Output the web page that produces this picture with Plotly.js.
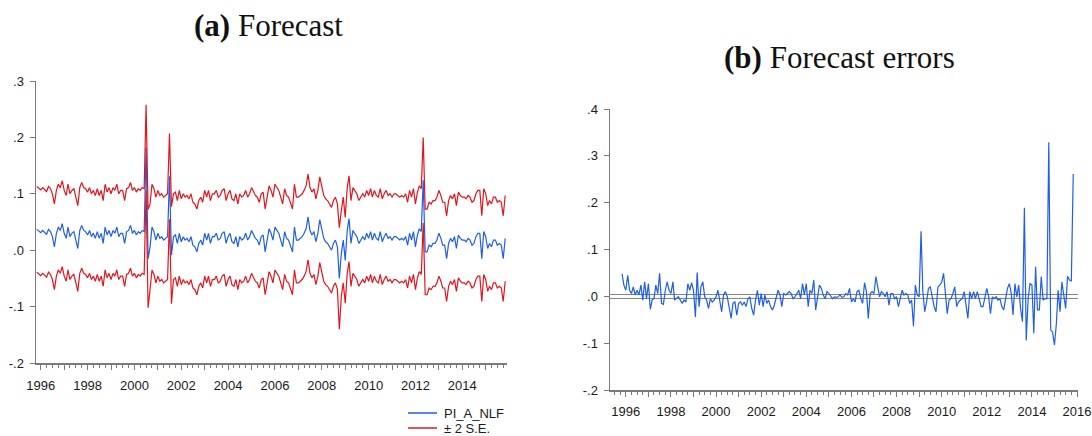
<!DOCTYPE html>
<html>
<head>
<meta charset="utf-8">
<script src="https://cdn.plot.ly/plotly-3.0.1.min.js"></script>
<style>
  html, body { margin: 0; padding: 0; background: #ffffff; }
  #chart { width: 1092px; height: 436px; }
</style>
</head>
<body>
<div id="chart"></div>
<script>
// Monthly sample: first observation is November 1995.
const firstYear = 1995;
const firstMonth = 11;

// Forecast of PI_A_NLF, one row per calendar year (1995 row holds Nov-Dec).
const forecast = [
  0.037, 0.034,
  0.031, 0.035, 0.031, 0.028, 0.037, 0.033, 0.024, 0.006, 0.030, 0.041, 0.035, 0.047,
  0.030, 0.021, 0.041, 0.024, 0.030, 0.033, 0.018, 0.003, 0.035, 0.044, 0.035, 0.033,
  0.027, 0.035, 0.024, 0.030, 0.021, 0.033, 0.021, 0.030, 0.012, 0.041, 0.027, 0.035,
  0.024, 0.035, 0.030, 0.041, 0.024, 0.030, 0.030, 0.012, 0.033, 0.035, 0.044, 0.030,
  0.035, 0.027, 0.033, 0.030, 0.035, 0.033, 0.182, -0.015, 0.006, 0.041, 0.033, 0.018,
  0.030, 0.021, 0.024, 0.018, 0.021, 0.024, 0.131, -0.009, 0.024, 0.027, 0.012, 0.030,
  0.015, 0.024, 0.018, 0.021, 0.015, 0.024, 0.009, 0.006, -0.003, 0.012, 0.018, 0.009,
  0.030, 0.018, 0.030, 0.012, 0.024, 0.024, 0.030, 0.018, 0.021, 0.030, 0.033, 0.012,
  0.024, 0.030, 0.015, 0.012, 0.024, 0.006, 0.024, 0.018, 0.021, 0.030, 0.018, 0.024,
  0.035, 0.027, 0.021, 0.018, 0.009, 0.024, 0.027, -0.003, 0.021, 0.038, 0.030, 0.018,
  0.041, 0.035, 0.030, 0.018, 0.006, 0.033, 0.021, 0.018, 0.006, -0.003, 0.041, 0.018,
  0.018, 0.021, 0.024, 0.030, 0.038, 0.059, 0.035, 0.027, 0.033, 0.015, 0.030, 0.054,
  0.035, 0.021, 0.015, 0.012, 0.006, 0.000, 0.012, 0.018, 0.006, -0.050, -0.006, 0.018,
  -0.018, 0.035, 0.056, 0.012, 0.035, 0.030, 0.024, 0.012, 0.018, 0.024, 0.018, 0.030,
  0.021, 0.033, 0.018, 0.030, 0.021, 0.018, 0.033, 0.015, 0.024, 0.030, 0.021, 0.024,
  0.018, 0.024, 0.024, 0.021, 0.018, 0.021, 0.018, 0.024, 0.009, 0.030, 0.018, 0.033,
  0.006, 0.027, 0.038, 0.033, 0.124, -0.003, -0.003, 0.009, 0.006, 0.012, 0.012, 0.018,
  0.030, 0.021, 0.009, 0.009, -0.015, 0.012, 0.021, 0.015, 0.024, 0.003, 0.027, 0.021,
  0.018, 0.018, 0.015, 0.021, 0.018, 0.009, 0.012, 0.024, 0.030, 0.030, -0.015, 0.033,
  0.024, 0.003, 0.012, 0.006, 0.018, 0.018, 0.009, 0.012, 0.009, -0.015, 0.021
];

// Two forecast standard errors, same layout as the forecast rows.
const twoSE = [
  0.076, 0.076,
  0.076, 0.076, 0.076, 0.076, 0.076, 0.076, 0.076, 0.076, 0.076, 0.076, 0.076, 0.076,
  0.076, 0.076, 0.076, 0.076, 0.076, 0.076, 0.076, 0.076, 0.076, 0.076, 0.076, 0.076,
  0.076, 0.076, 0.076, 0.076, 0.076, 0.076, 0.076, 0.076, 0.076, 0.076, 0.076, 0.076,
  0.076, 0.076, 0.076, 0.076, 0.076, 0.076, 0.076, 0.076, 0.076, 0.076, 0.076, 0.076,
  0.076, 0.076, 0.076, 0.076, 0.076, 0.076, 0.076, 0.087, 0.076, 0.076, 0.076, 0.076,
  0.076, 0.076, 0.076, 0.076, 0.076, 0.076, 0.076, 0.086, 0.076, 0.076, 0.076, 0.076,
  0.076, 0.076, 0.076, 0.076, 0.076, 0.076, 0.076, 0.076, 0.076, 0.076, 0.076, 0.076,
  0.076, 0.076, 0.076, 0.076, 0.076, 0.076, 0.076, 0.076, 0.076, 0.076, 0.076, 0.076,
  0.076, 0.076, 0.076, 0.076, 0.076, 0.076, 0.076, 0.076, 0.076, 0.076, 0.076, 0.076,
  0.076, 0.076, 0.076, 0.076, 0.076, 0.076, 0.076, 0.076, 0.076, 0.076, 0.076, 0.076,
  0.076, 0.076, 0.076, 0.076, 0.076, 0.076, 0.076, 0.076, 0.076, 0.076, 0.076, 0.076,
  0.076, 0.076, 0.076, 0.076, 0.076, 0.076, 0.076, 0.076, 0.076, 0.076, 0.076, 0.076,
  0.076, 0.076, 0.076, 0.076, 0.076, 0.076, 0.076, 0.076, 0.076, 0.090, 0.076, 0.076,
  0.076, 0.076, 0.076, 0.076, 0.076, 0.076, 0.076, 0.076, 0.076, 0.076, 0.076, 0.076,
  0.076, 0.076, 0.076, 0.076, 0.076, 0.076, 0.076, 0.076, 0.076, 0.076, 0.076, 0.076,
  0.076, 0.076, 0.076, 0.076, 0.076, 0.076, 0.076, 0.076, 0.076, 0.076, 0.076, 0.076,
  0.076, 0.076, 0.076, 0.076, 0.076, 0.076, 0.076, 0.076, 0.076, 0.076, 0.076, 0.076,
  0.076, 0.076, 0.076, 0.076, 0.076, 0.076, 0.076, 0.076, 0.076, 0.076, 0.076, 0.076,
  0.076, 0.076, 0.076, 0.076, 0.076, 0.076, 0.076, 0.076, 0.076, 0.076, 0.076, 0.076,
  0.076, 0.076, 0.076, 0.076, 0.076, 0.076, 0.076, 0.076, 0.076, 0.076, 0.076
];

// Forecast errors, same monthly layout.
const forecastErrors = [
  0.048, 0.024,
  0.013, 0.045, 0.013, 0.006, 0.020, 0.003, 0.013, 0.003, 0.024, -0.008, 0.031, -0.005,
  0.027, -0.028, -0.008, -0.005, 0.024, 0.006, 0.049, -0.015, -0.017, 0.013, 0.031, 0.013,
  0.006, 0.031, -0.008, -0.005, -0.001, -0.008, -0.015, -0.008, -0.012, 0.027, 0.013, 0.029,
  0.013, -0.044, 0.051, -0.022, 0.020, 0.031, -0.001, -0.008, -0.026, -0.005, -0.012, -0.008,
  -0.001, 0.013, -0.012, -0.033, 0.003, 0.010, -0.001, -0.022, -0.047, -0.015, -0.012, -0.040,
  -0.015, -0.012, -0.019, -0.012, -0.022, -0.005, -0.001, -0.026, -0.040, -0.008, 0.013, -0.019,
  0.006, -0.022, 0.003, -0.015, -0.008, -0.022, -0.029, -0.019, -0.005, 0.013, 0.003, -0.022,
  0.006, 0.003, 0.006, 0.010, 0.006, -0.005, -0.001, 0.006, 0.013, -0.005, 0.027, 0.003,
  0.027, -0.022, 0.013, 0.006, 0.035, -0.029, -0.001, 0.024, 0.017, 0.003, -0.005, 0.010,
  0.006, -0.001, -0.005, -0.001, -0.002, -0.001, 0.003, -0.002, -0.001, 0.006, 0.003, 0.017,
  -0.012, -0.005, -0.012, 0.010, 0.013, -0.005, -0.015, 0.029, 0.010, -0.047, 0.006, 0.010,
  0.006, 0.042, 0.020, -0.001, 0.010, 0.006, -0.001, 0.010, -0.019, 0.006, 0.006, -0.005,
  -0.001, -0.022, -0.005, 0.013, 0.003, 0.006, 0.003, -0.015, -0.008, -0.064, 0.024, 0.003,
  -0.001, 0.139, 0.013, -0.033, -0.012, 0.017, 0.020, -0.005, -0.022, -0.033, 0.020, 0.024,
  0.030, 0.049, 0.013, -0.037, -0.008, -0.005, 0.006, 0.020, -0.022, -0.012, -0.008, -0.005,
  0.010, -0.020, -0.047, 0.010, -0.005, 0.010, -0.005, 0.010, -0.005, -0.022, -0.022, -0.001,
  0.017, -0.001, -0.037, -0.001, -0.005, -0.001, -0.008, -0.005, -0.022, -0.029, -0.005, 0.017,
  0.027, 0.006, -0.040, 0.027, -0.001, 0.024, -0.026, -0.054, 0.189, -0.094, -0.005, 0.027,
  0.024, -0.079, 0.063, -0.029, -0.029, 0.042, -0.008, -0.005, -0.005, 0.329, -0.072, -0.076,
  -0.104, -0.058, 0.013, -0.033, 0.031, 0.006, -0.026, 0.043, 0.035, 0.033, 0.261
];

// Reference lines drawn across the error panel.
const errorRefLines = [0.004, -0.0045];

// Axis ticks and labels.
const yTicksA = [-0.2, -0.1, 0, 0.1, 0.2, 0.3];
const yTickTextA = ['-.2', '-.1', '.0', '.1', '.2', '.3'];
const yTicksB = [-0.2, -0.1, 0, 0.1, 0.2, 0.3, 0.4];
const yTickTextB = ['-.2', '-.1', '.0', '.1', '.2', '.3', '.4'];
const yearsA = [1996, 1997, 1998, 1999, 2000, 2001, 2002, 2003, 2004, 2005,
                2006, 2007, 2008, 2009, 2010, 2011, 2012, 2013, 2014, 2015];
const yearsB = [1996, 1997, 1998, 1999, 2000, 2001, 2002, 2003, 2004, 2005,
                2006, 2007, 2008, 2009, 2010, 2011, 2012, 2013, 2014, 2015, 2016];

const seriesNames = ['PI_A_NLF', '\u00B1 2 S.E.'];
const panelTitles = ['<b>(a)</b> Forecast', '<b>(b)</b> Forecast errors'];

// ---------------------------------------------------------------------------
const W = 1092, H = 436;
const BLUE = '#1f5fe6';
const RED = '#e3141c';
const AXIS = '#7a7a7a';
const TEXT = '#1a1a1a';
const SANS = 'Liberation Sans, Arial, sans-serif';
const SERIF = 'Liberation Serif, Times New Roman, serif';

function monthDate(i) {
  const k = firstMonth - 1 + i;
  const y = firstYear + Math.floor(k / 12);
  const m = (k % 12) + 1;
  return y + '-' + String(m).padStart(2, '0') + '-01';
}
const dates = forecast.map((_, i) => monthDate(i));
const upperBand = forecast.map((v, i) => v + twoSE[i]);
const lowerBand = forecast.map((v, i) => v - twoSE[i]);

const px = (a, b) => [a / W, b / W];
const py = (top, bottom) => [1 - bottom / H, 1 - top / H];

function xAxis(years, domain, range, anchor, standoff) {
  return {
    type: 'date',
    domain: domain,
    range: range,
    anchor: anchor,
    automargin: false,
    tickmode: 'array',
    tickvals: years.map(y => y + '-01-01'),
    ticktext: years.map(y => (y % 2 === 0 ? String(y) : '')),
    ticks: 'outside', ticklen: 5, tickwidth: 1, tickcolor: AXIS,
    ticklabelstandoff: standoff,
    minor: { dtick: 'M3', tick0: '1996-01-01', ticks: 'outside', ticklen: 3,
             tickwidth: 1, tickcolor: AXIS, showgrid: false },
    showline: true, linecolor: AXIS, linewidth: 1.5,
    showgrid: false, zeroline: false,
    tickfont: { family: SANS, size: 13, color: TEXT },
    fixedrange: true
  };
}
function yAxis(vals, text, domain, anchor) {
  return {
    domain: domain,
    anchor: anchor,
    automargin: false,
    range: [vals[0], vals[vals.length - 1]],
    tickmode: 'array', tickvals: vals, ticktext: text,
    ticks: 'outside', ticklen: 5, tickwidth: 1, tickcolor: AXIS,
    ticklabelstandoff: 3,
    showline: true, linecolor: AXIS, linewidth: 1.5,
    showgrid: false, zeroline: false,
    tickfont: { family: SANS, size: 13, color: TEXT },
    fixedrange: true
  };
}

const traces = [
  { x: dates, y: forecast, type: 'scatter', mode: 'lines', name: seriesNames[0],
    line: { color: BLUE, width: 1.2 }, xaxis: 'x', yaxis: 'y' },
  { x: dates, y: upperBand, type: 'scatter', mode: 'lines', name: seriesNames[1],
    line: { color: RED, width: 1.2 }, xaxis: 'x', yaxis: 'y' },
  { x: dates, y: lowerBand, type: 'scatter', mode: 'lines', name: seriesNames[1],
    line: { color: RED, width: 1.2 }, xaxis: 'x', yaxis: 'y' },
  { x: dates, y: forecastErrors, type: 'scatter', mode: 'lines', name: 'errors',
    line: { color: BLUE, width: 1.2 }, xaxis: 'x2', yaxis: 'y2' }
];

// Horizontal reference lines in the error panel.
const shapes = errorRefLines.map(v => ({
  type: 'line', xref: 'x2 domain', yref: 'y2', x0: 0, x1: 1, y0: v, y1: v,
  line: { color: '#808080', width: 1 }, layer: 'below'
}));

// Key below panel (a): a short line sample next to each series name.
const keyColors = [BLUE, RED];
const keyRows = [413, 428];
const annotations = [];
seriesNames.forEach((name, i) => {
  shapes.push({
    type: 'line', xref: 'paper', yref: 'paper',
    x0: 408 / W, x1: 437 / W, y0: 1 - keyRows[i] / H, y1: 1 - keyRows[i] / H,
    line: { color: keyColors[i], width: 1.5 }
  });
  annotations.push({
    text: name, xref: 'paper', yref: 'paper', x: 442 / W, y: 1 - keyRows[i] / H,
    xanchor: 'left', yanchor: 'middle', showarrow: false,
    font: { family: SANS, size: 13, color: TEXT }
  });
});
annotations.push(
  { text: panelTitles[0], xref: 'paper', yref: 'paper', x: 268 / W, y: 1 - 25 / H,
    xanchor: 'center', yanchor: 'middle', showarrow: false,
    font: { family: SERIF, size: 31, color: '#111' } },
  { text: panelTitles[1], xref: 'paper', yref: 'paper', x: 839 / W, y: 1 - 57 / H,
    xanchor: 'center', yanchor: 'middle', showarrow: false,
    font: { family: SERIF, size: 31, color: '#111' } }
);

const layout = {
  width: W, height: H,
  margin: { l: 0, r: 0, t: 0, b: 0 },
  paper_bgcolor: '#ffffff', plot_bgcolor: '#ffffff',
  showlegend: false,
  xaxis: xAxis(yearsA, px(36, 507), ['1995-10-19', '2015-11-29'], 'y', 5),
  yaxis: yAxis(yTicksA, yTickTextA, py(81, 363), 'x'),
  xaxis2: xAxis(yearsB, px(610, 1078), ['1995-04-20', '2016-01-17'], 'y2', 4),
  yaxis2: yAxis(yTicksB, yTickTextB, py(109, 390), 'x2'),
  shapes: shapes,
  annotations: annotations
};

Plotly.newPlot('chart', traces, layout, { staticPlot: true, displayModeBar: false });
</script>
</body>
</html>
